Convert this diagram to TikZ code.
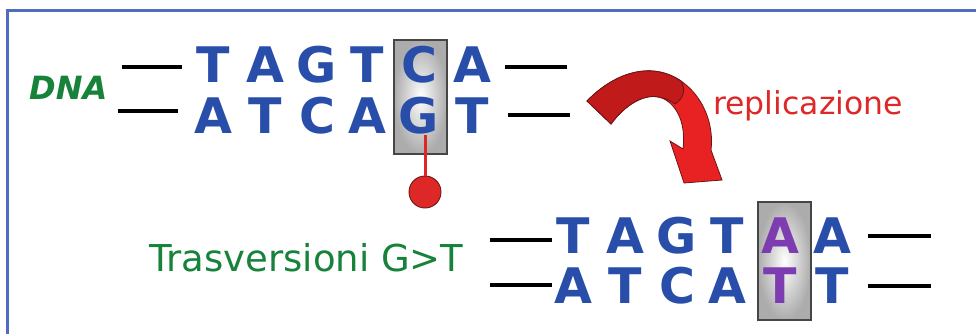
\documentclass[tikz,border=0pt]{standalone}
\usepackage{fontspec}
\setsansfont{DejaVu Sans}
\begin{document}
\begin{tikzpicture}[x=1pt,y=-1pt,
  base/.style={font=\sffamily\bfseries\fontsize{49}{49}\selectfont, text=baseblue, anchor=base, inner sep=0pt},
  mutbase/.style={base, text=mutpurple},
  strand/.style={line width=4pt, black},
  hlbox/.style={draw=boxedge, line width=1.1pt, inner color=white, outer color=boxgray},
  label/.style={font=\sffamily, anchor=base west, inner sep=0pt}]
\definecolor{baseblue}{RGB}{40,78,170}
\definecolor{mutpurple}{RGB}{125,60,175}
\definecolor{framecol}{RGB}{80,108,192}
\definecolor{labgreen}{RGB}{22,130,58}
\definecolor{labred}{RGB}{222,40,40}
\definecolor{boxgray}{RGB}{172,172,172}
\definecolor{boxedge}{RGB}{70,70,70}
\definecolor{arrowlight}{RGB}{232,34,34}
\definecolor{arrowdark}{RGB}{192,26,26}
\definecolor{arrowedge}{RGB}{110,20,20}
\useasboundingbox (0,0) rectangle (976,334);
\fill[white] (0,0) rectangle (976,334);

% open frame: left and top sides
\draw[framecol, line width=3pt] (7,340) -- (7,11) -- (990,11);

% ---------- original double strand ----------
\node[label, font=\sffamily\bfseries\itshape\fontsize{32}{32}\selectfont, text=labgreen] (dna) at (29,100) {DNA};

\shade[hlbox] (394,40) rectangle (447,154);

\foreach \c/\l [count=\i] in {213/T,265/A,317/G,367/T,419/C,472/A}
  \node[base] (u\i) at (\c,83) {\l};
\foreach \c/\l [count=\i] in {213/A,265/T,317/C,367/A,419/G,472/T}
  \node[base] (d\i) at (\c,133) {\l};

\draw[strand] (122,67) -- (182,67);
\draw[strand] (118,111) -- (178,111);
\draw[strand] (505,67) -- (567,67);
\draw[strand] (508,115) -- (570,115);

% damaged guanine with its lesion marker
\node[circle, minimum size=32pt, inner sep=0pt, fill=labred, draw=arrowedge, line width=0.9pt] (lesion) at (425,192) {};
\draw[labred, line width=3pt] (d5.south -| lesion) ++(0,1) -- (lesion.north);

% ---------- replication arrow ----------
\filldraw[fill=arrowlight, draw=arrowedge, line width=0.8pt]
  (587,101) .. controls (613,74) and (650,60) .. (681,81)
  .. controls (704,97) and (714,125) .. (711,150)
  -- (722,180) -- (684,183) -- (670,141) -- (683,149)
  .. controls (686,125) and (678,105) .. (662,98)
  .. controls (645,92) and (625,105) .. (611,124) -- cycle;
\filldraw[fill=arrowdark, draw=arrowedge, line width=0.8pt]
  (587,101) .. controls (613,74) and (650,60) .. (681,81)
  .. controls (686,89) and (684,98) .. (675,104)
  .. controls (669,100) and (665,98) .. (662,98)
  .. controls (645,92) and (625,105) .. (611,124) -- cycle;

\node[label, font=\sffamily\fontsize{31.5}{31.5}\selectfont, text=labred] (repl) at (713,114) {replicazione};

% ---------- replicated strand with transversion ----------
\node[label, font=\sffamily\fontsize{37}{37}\selectfont, text=labgreen] (trans) at (149,271) {Trasversioni G>T};

\shade[hlbox] (758,202) rectangle (811,320);

\foreach \c/\l [count=\i] in {573/T,625/A,677/G,727/T,832/A}
  \node[base] (p\i) at (\c,253) {\l};
\node[mutbase] (pm) at (780,253) {A};
\foreach \c/\l [count=\i] in {573/A,625/T,677/C,727/A,832/T}
  \node[base] (q\i) at (\c,303) {\l};
\node[mutbase] (qm) at (780,303) {T};

\draw[strand] (490,240) -- (552,240);
\draw[strand] (490,285) -- (552,285);
\draw[strand] (868,236) -- (931,236);
\draw[strand] (868,286) -- (931,286);
\end{tikzpicture}
\end{document}
